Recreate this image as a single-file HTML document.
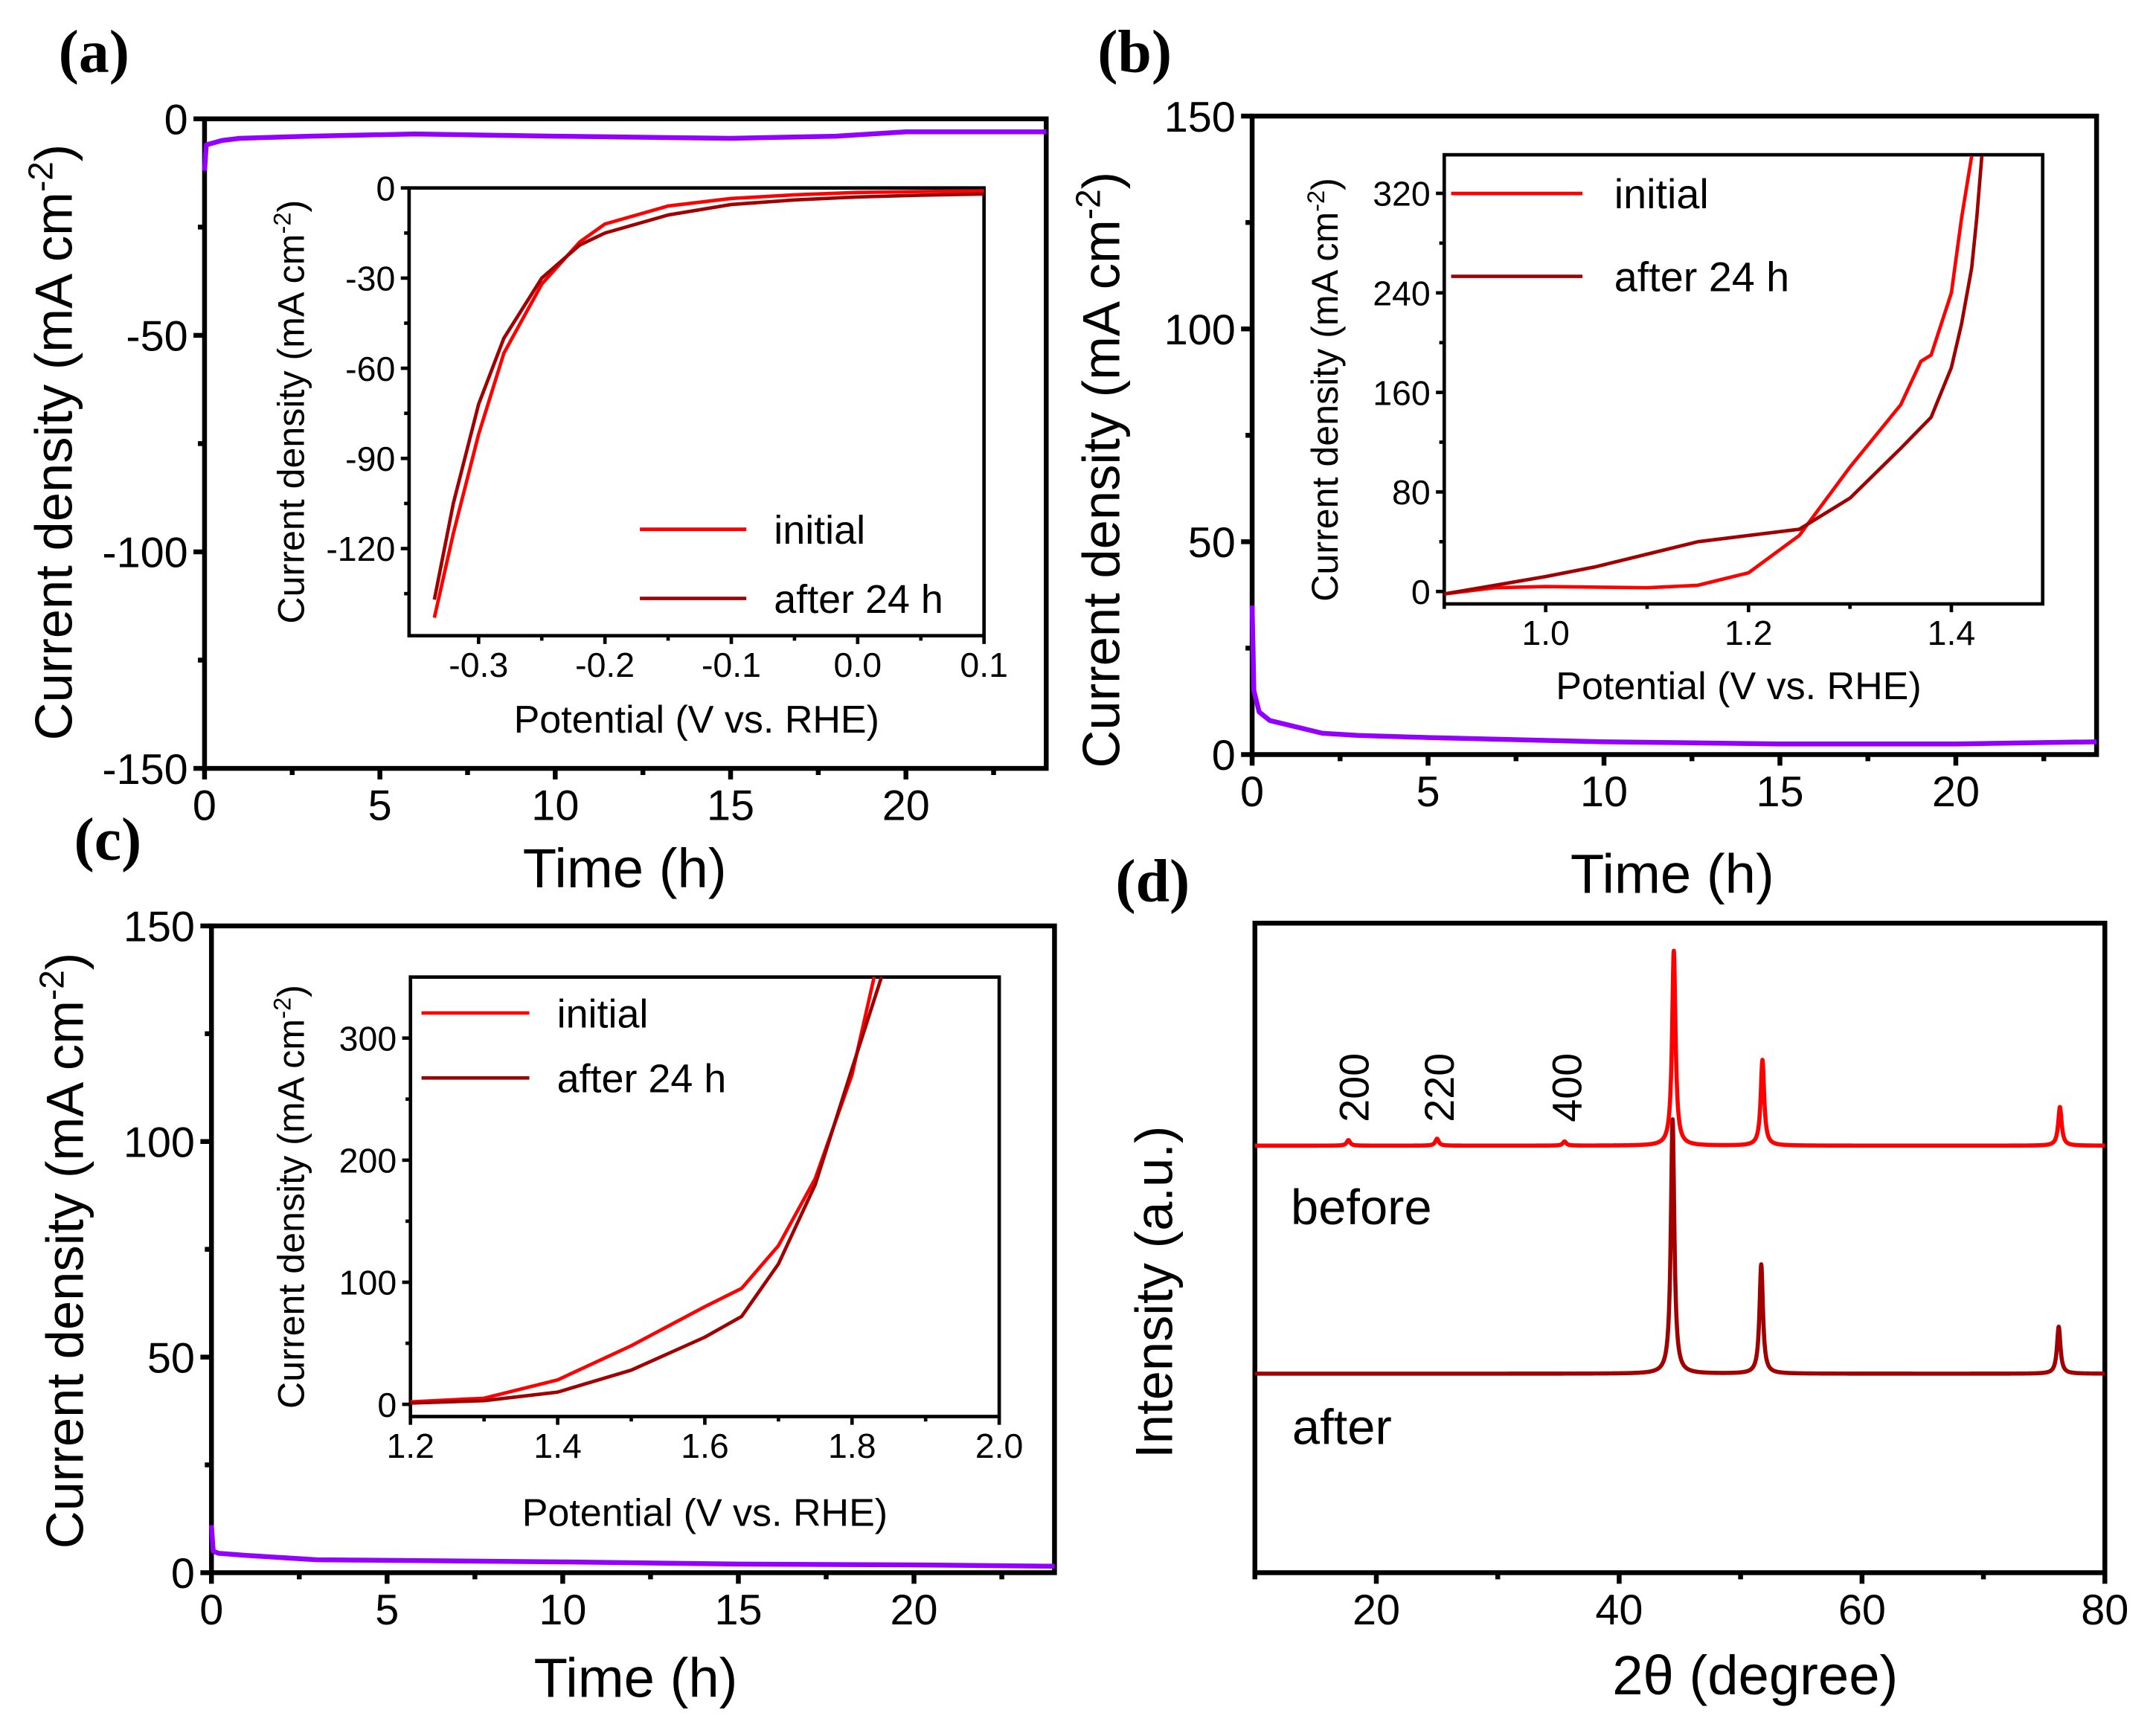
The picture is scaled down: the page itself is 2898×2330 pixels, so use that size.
<!DOCTYPE html>
<html><head><meta charset="utf-8"><style>
html,body{margin:0;padding:0;background:#fff;}
svg{display:block;font-family:"Liberation Sans",sans-serif;}
</style></head><body>
<svg id="fig" width="2898" height="2330" viewBox="0 0 1560 1254" preserveAspectRatio="none" xmlns="http://www.w3.org/2000/svg"></svg>
<script>
// ---- data ----
const aTime=[0,0.05,0.5,1,3,6,10,15,18,20,24];
const aCur=[-12,-6,-5,-4.5,-4,-3.5,-4,-4.5,-4,-3,-3];
const bTime=[0,0.05,0.2,0.5,1,2,3,5,10,15,20,24];
const bCur=[35,15,10,8,7,5,4.5,4,3,2.5,2.5,3];
const cTime=[0,0.05,0.2,1,3,10,15,20,24];
const cCur=[11,5,4.5,4,3,2.5,2,1.8,1.5];
const aInsV=[-0.335,-0.32,-0.3,-0.28,-0.25,-0.22,-0.2,-0.15,-0.1,-0.05,0,0.05,0.1];
const aInsInit=[-143,-115,-82,-55,-32,-18,-12,-6,-3.5,-2.3,-1.5,-1.2,-1];
const aInsAfter=[-137,-105,-72,-50,-30,-19,-15,-9,-5.5,-4,-3,-2.4,-2];
const bInsV=[0.9,0.95,1.0,1.05,1.1,1.15,1.2,1.25,1.3,1.33,1.35,1.37,1.38,1.4,1.41,1.42];
const bInsInit=[-2,3,4,3.5,3,5,15,45,100,130,150,185,190,240,300,350];
const bInsV2=[0.9,0.95,1.0,1.05,1.1,1.15,1.2,1.25,1.3,1.35,1.38,1.4,1.41,1.42,1.425,1.43];
const bInsAfter=[-2,5,12,20,30,40,45,50,75,115,140,180,215,260,300,350];
const cInsV=[1.2,1.3,1.4,1.5,1.6,1.65,1.7,1.75,1.8,1.83];
const cInsInit=[2,5,20,48,80,95,130,185,270,350];
const cInsV2=[1.2,1.3,1.4,1.5,1.6,1.65,1.7,1.75,1.8,1.84];
const cInsAfter=[1,3,10,28,55,72,115,180,275,350];
const xrdBeforePos=[17.7,25,35.5,44.5,51.8,76.3];
const xrdBeforeH=[4,5,3,141,62,28];
const xrdAfterPos=[44.4,51.7,76.2];
const xrdAfterH=[184,79,34];
const xrdBeforeBase=309, xrdAfterBase=144;
const xrdLabels=["200","220","400"];
const xrdLabelPos=[18,25,35.5];

const NS="http://www.w3.org/2000/svg";
const svg=document.getElementById('fig');
function el(tag,attrs,parent){const e=document.createElementNS(NS,tag);for(const k in attrs)e.setAttribute(k,attrs[k]);(parent||svg).appendChild(e);return e;}
function txt(s,x,y,size,opts){opts=opts||{};const t=el('text',{x:x,y:y,'font-size':size,'text-anchor':opts.anchor||'middle',fill:'#000'});if(opts.rot)t.setAttribute('transform','rotate(-90 '+x+' '+y+')');if(opts.serif){t.setAttribute('font-family','"Liberation Serif",serif');t.setAttribute('font-weight','bold');}t.textContent=s;return t;}
function scale(d0,d1,r0,r1){return v=>r0+(v-d0)/(d1-d0)*(r1-r0);}
function line(xs,ys,sx,sy,color,w,name){const pts=xs.map((x,i)=>sx(x).toFixed(2)+','+sy(ys[i]).toFixed(2)).join(' ');const p=el('polyline',{points:pts,fill:'none',stroke:color,'stroke-width':w,'stroke-linejoin':'round'});


return p;}
function axes(L,R,T,B,sx,sy,xt,yt,xminor,yminor,fs,sw,tl,name,xdec){
 const g=el('g',{});
 
 
 el('rect',{x:L,y:T,width:R-L,height:B-T,fill:'none',stroke:'#000','stroke-width':sw},g);
 xt.forEach(v=>{const x=sx(v);el('line',{x1:x,x2:x,y1:B,y2:B+tl,stroke:'#000','stroke-width':sw},g);const t=txt(xdec!=null?v.toFixed(xdec):String(v),x,B+tl+fs*0.95,fs);g.appendChild(t);});
 xminor.forEach(v=>{const x=sx(v);el('line',{x1:x,x2:x,y1:B,y2:B+tl*0.6,stroke:'#000','stroke-width':sw},g);});
 yt.forEach(v=>{const y=sy(v);el('line',{x1:L-tl,x2:L,y1:y,y2:y,stroke:'#000','stroke-width':sw},g);const t=txt(String(v),L-tl-4,y+fs*0.36,fs,{anchor:'end'});g.appendChild(t);});
 yminor.forEach(v=>{const y=sy(v);el('line',{x1:L-tl*0.6,x2:L,y1:y,y2:y,stroke:'#000','stroke-width':sw},g);});
 return g;}
function ytitle(x,y,size,name){const t=el('text',{x:x,y:y,'font-size':size,'text-anchor':'middle',transform:'rotate(-90 '+x+' '+y+')'});
 t.appendChild(document.createTextNode('Current density (mA cm'));const s=el('tspan',{'baseline-shift':'super','font-size':size*0.65},t);s.textContent='-2';const e=el('tspan',{},t);e.textContent=')';return t;}
function legend(x1,x2,y1,y2,tx,fs,name){
 const g=el('g',{});
 el('line',{x1:x1,x2:x2,y1:y1,y2:y1,stroke:'#ff0000','stroke-width':2.5},g);
 el('line',{x1:x1,x2:x2,y1:y2,y2:y2,stroke:'#a00000','stroke-width':2.5},g);
 g.appendChild(txt('initial',tx,y1+fs*0.36,fs,{anchor:'start'}));
 g.appendChild(txt('after 24 h',tx,y2+fs*0.36,fs,{anchor:'start'}));}
function range(a,b,s){const r=[];for(let v=a;v<=b+1e-9;v+=s)r.push(+v.toFixed(3));return r;}

// ---- panel a ----
{const sx=scale(0,24,148,757),sy=scale(0,-150,86,556);
axes(148,757,86,556,sx,sy,[0,5,10,15,20],[0,-50,-100,-150],range(2.5,22.5,5),[-25,-75,-125],31,3.5,8,'panel-a-axes');
line(aTime,aCur,sx,sy,'#9400ff',3.5,'panel-a-trace');
txt('Time (h)',452,642,40);
ytitle(52,320,38,'panel-a-y-title');
const l=txt('(a)',68,52,44,{serif:true});
const ix=scale(-0.355,0.1,296,712),iy=scale(0,-149,136,460);
axes(296,712,136,460,ix,iy,[-0.3,-0.2,-0.1,0,0.1],[0,-30,-60,-90,-120],[-0.25,-0.15,-0.05,0.05],[-15,-45,-75,-105,-135],25,2.5,6,'panel-a-inset-axes',1);
line(aInsV,aInsInit,ix,iy,'#ff0000',2.5,'panel-a-inset-initial');
line(aInsV,aInsAfter,ix,iy,'#a00000',2.5,'panel-a-inset-after');
txt('Potential (V vs. RHE)',504,530,28);
ytitle(220,298,27,'panel-a-inset-y-title');
legend(463,540,383,433,560,29,'panel-a-legend');}

// ---- panel b ----
{const sx=scale(0,24,906,1517),sy=scale(0,150,546,84);
axes(906,1517,84,546,sx,sy,[0,5,10,15,20],[0,50,100,150],range(2.5,22.5,5),[25,75,125],31,3.5,8,'panel-b-axes');
line(bTime,bCur,sx,sy,'#9400ff',3.5,'panel-b-trace');
txt('Time (h)',1210,646,40);
ytitle(810,340,38,'panel-b-y-title');
const l=txt('(b)',821,52,44,{serif:true});
const ix=scale(0.9,1.49,1045,1478),iy=scale(-10,351,437,112);
axes(1045,1478,112,437,ix,iy,[1.0,1.2,1.4],[0,80,160,240,320],[0.9,1.1,1.3],[40,120,200,280],25,2.5,6,'panel-b-inset-axes',1);
line(bInsV,bInsInit,ix,iy,'#ff0000',2.5,'panel-b-inset-initial');
line(bInsV2,bInsAfter,ix,iy,'#a00000',2.5,'panel-b-inset-after');
txt('Potential (V vs. RHE)',1258,506,28);
ytitle(968,282,27,'panel-b-inset-y-title');
legend(1050,1145,140,200,1168,30,'panel-b-legend');}

// ---- panel c ----
{const sx=scale(0,24,153,763),sy=scale(0,150,1138,670);
axes(153,763,670,1138,sx,sy,[0,5,10,15,20],[0,50,100,150],range(2.5,22.5,5),[25,75,125],31,3.5,8,'panel-c-axes');
line(cTime,cCur,sx,sy,'#9400ff',3.5,'panel-c-trace');
txt('Time (h)',460,1228,40);
ytitle(60,905,38,'panel-c-y-title');
const l=txt('(c)',78,622,44,{serif:true});
const ix=scale(1.2,2.0,297,723),iy=scale(-10,350,1025,707);
axes(297,723,707,1025,ix,iy,[1.2,1.4,1.6,1.8,2.0],[0,100,200,300],[1.3,1.5,1.7,1.9],[50,150,250],25,2.5,6,'panel-c-inset-axes',1);
line(cInsV,cInsInit,ix,iy,'#ff0000',2.5,'panel-c-inset-initial');
line(cInsV2,cInsAfter,ix,iy,'#a00000',2.5,'panel-c-inset-after');
txt('Potential (V vs. RHE)',510,1104,28);
ytitle(220,866,27,'panel-c-inset-y-title');
legend(305,383,733,780,403,29,'panel-c-legend');}

// ---- panel d ----
{const sx=scale(10,80,908,1523),sy=scale(0,470,1138,668);
axes(908,1523,668,1138,sx,sy,[20,40,60,80],[],[10,30,50,70],[],31,3.5,8,'panel-d-axes');
function spec(pos,h,base){const xs=[],ys=[];for(let x=10;x<=80.0001;x+=0.02){let y=base;pos.forEach((p,i)=>{const w=0.17;y+=h[i]/(1+((x-p)/w)*((x-p)/w));});xs.push(+x.toFixed(2));ys.push(y);}return [xs,ys];}
const b=spec(xrdBeforePos,xrdBeforeH,xrdBeforeBase);
const a=spec(xrdAfterPos,xrdAfterH,xrdAfterBase);
line(a[0],a[1],sx,sy,'#a00000',3,'xrd-after-trace');
line(b[0],b[1],sx,sy,'#ff0000',3,'xrd-before-trace');
xrdLabels.forEach((s,i)=>{const t=txt(s,sx(xrdLabelPos[i])+12,812,30,{anchor:'start',rot:true});

});
txt('before',985,886,36);
txt('after',971,1045,36);
txt('2θ (degree)',1270,1226,40);
txt('Intensity (a.u.)',848,935,38,{rot:true});
const l=txt('(d)',834,652,44,{serif:true});}
</script>
</body></html>
